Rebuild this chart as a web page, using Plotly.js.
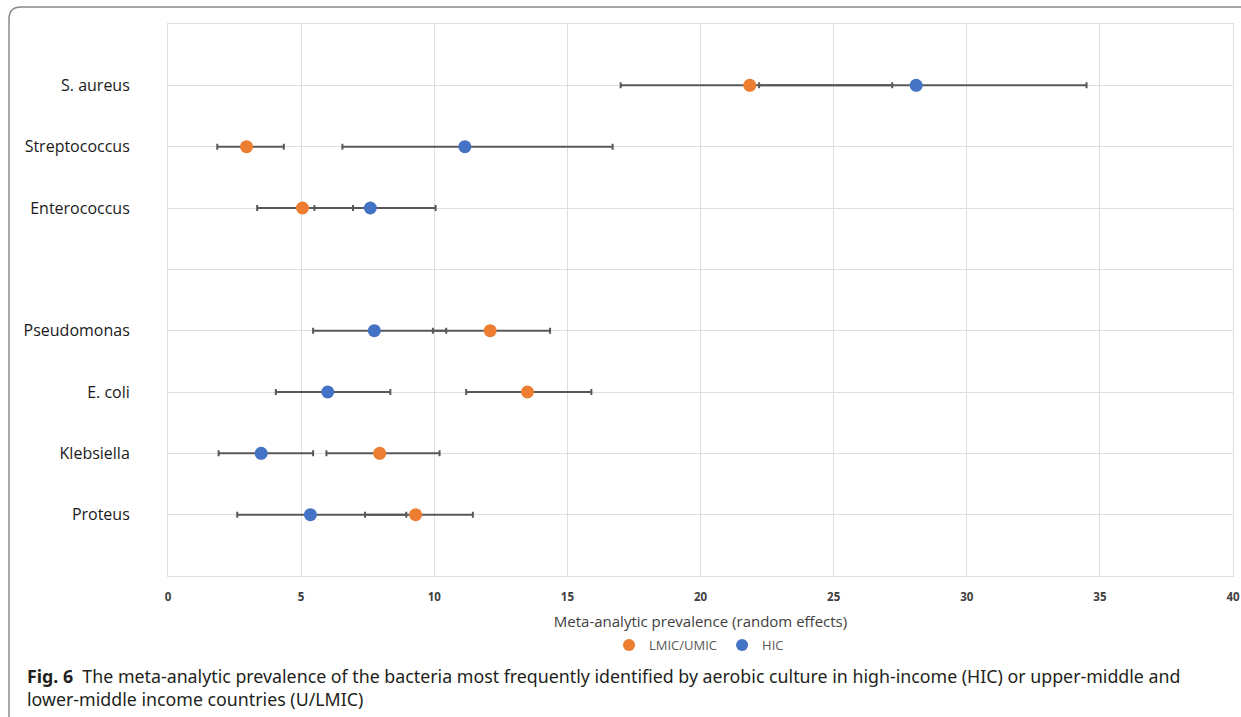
<!DOCTYPE html>
<html>
<head>
<meta charset="utf-8">
<script src="https://cdn.plot.ly/plotly-3.0.1.min.js"></script>
<style>
  html, body { margin: 0; padding: 0; background: #ffffff; }
  #chart { width: 1241px; height: 717px; }
</style>
</head>
<body>
<div id="chart"></div>
<script>
// ---- data ----
const categories = ['S. aureus', 'Streptococcus', 'Enterococcus', '', 'Pseudomonas', 'E. coli', 'Klebsiella', 'Proteus'];

const lmicValue = [21.85, 2.95, 5.05, null, 12.1, 13.5, 7.95, 9.3];
const lmicLower = [17.0, 1.85, 3.35, null, 9.95, 11.2, 5.95, 7.4];
const lmicUpper = [27.2, 4.35, 6.95, null, 14.35, 15.9, 10.2, 11.45];

const hicValue = [28.1, 11.15, 7.6, null, 7.75, 6.0, 3.5, 5.35];
const hicLower = [22.2, 6.55, 5.5, null, 5.45, 4.05, 1.9, 2.6];
const hicUpper = [34.5, 16.7, 10.05, null, 10.45, 8.35, 5.45, 8.95];

const xTicks = [0, 5, 10, 15, 20, 25, 30, 35, 40];

const seriesNames = ['LMIC/UMIC', 'HIC'];
const xTitle = 'Meta-analytic prevalence (random effects)';
const captionBold = 'Fig. 6';
const captionText = 'The meta-analytic prevalence of the bacteria most frequently identified by aerobic culture in high-income (HIC) or upper-middle and<br>lower-middle income countries (U/LMIC)';

// ---- layout geometry ----
const W = 1241, H = 717;
const M = { l: 168, r: 8, t: 24, b: 141 };
const PW = W - M.l - M.r, PH = H - M.t - M.b;
const px = x => (x - M.l) / PW;          // pixel -> paper x
const py = y => (H - M.b - y) / PH;      // pixel -> paper y

const n = categories.length;
const yPos = categories.map((c, i) => n - i);  // top row highest

function errTrace(name, vals, lo, hi, color) {
  return {
    type: 'scatter', mode: 'markers', name: name,
    x: vals, y: yPos,
    marker: { color: color, size: 13 },
    error_x: {
      type: 'data', symmetric: false,
      array: vals.map((v, i) => v == null ? null : hi[i] - v),
      arrayminus: vals.map((v, i) => v == null ? null : v - lo[i]),
      color: '#595959', thickness: 2, width: 3
    },
    hoverinfo: 'x+y+name'
  };
}

const data = [
  errTrace(seriesNames[0], lmicValue, lmicLower, lmicUpper, '#ED7D31'),
  errTrace(seriesNames[1], hicValue, hicLower, hicUpper, '#4472C4')
];

const frameColor = '#8a8a8a';
const r = 12;
const framePath = `M ${px(9)} ${py(740)} L ${px(9)} ${py(7 + r)} Q ${px(9)} ${py(7)} ${px(9 + r)} ${py(7)} L ${px(1260)} ${py(7)}`;

const layout = {
  width: W, height: H,
  margin: M,
  paper_bgcolor: '#ffffff', plot_bgcolor: '#ffffff',
  font: { family: 'Open Sans, sans-serif', color: '#404040' },
  showlegend: true,
  legend: {
    orientation: 'h', x: px(699), y: py(645), xanchor: 'center', yanchor: 'middle',
    font: { size: 13, color: '#595959' }, itemwidth: 30, itemsizing: 'constant',
    traceorder: 'normal', bgcolor: 'rgba(0,0,0,0)'
  },
  xaxis: {
    range: [0, 40], tickvals: xTicks, ticktext: xTicks.map(String),
    showgrid: true, gridcolor: '#dedede', gridwidth: 1,
    zeroline: false, showline: true, linecolor: '#dedede', mirror: true,
    ticks: '', ticklabelstandoff: 10,
    tickfont: { size: 11.5, color: '#404040', weight: 'bold' },
    title: { text: xTitle, font: { size: 15, color: '#404040' }, standoff: 13 },
    fixedrange: true
  },
  yaxis: {
    range: [0, n + 1], tickvals: yPos, ticktext: categories,
    showgrid: true, gridcolor: '#dedede', gridwidth: 1,
    zeroline: false, showline: true, linecolor: '#dedede', mirror: true,
    ticks: '', ticklabelstandoff: 34,
    tickfont: { size: 16, color: '#1a1a1a' },
    fixedrange: true
  },
  shapes: [
    { type: 'path', xref: 'paper', yref: 'paper', path: framePath,
      line: { color: frameColor, width: 1.5 }, layer: 'above' }
  ],
  annotations: [
    { xref: 'paper', yref: 'paper', x: px(25), y: py(687), xanchor: 'left', yanchor: 'middle',
      align: 'left', showarrow: false,
      text: `<b>${captionBold}</b>  ${captionText}`,
      font: { family: 'Noto Sans, sans-serif', size: 17.8, color: '#231f20' } }
  ]
};

Plotly.newPlot('chart', data, layout, { displayModeBar: false, staticPlot: false });
</script>
</body>
</html>
